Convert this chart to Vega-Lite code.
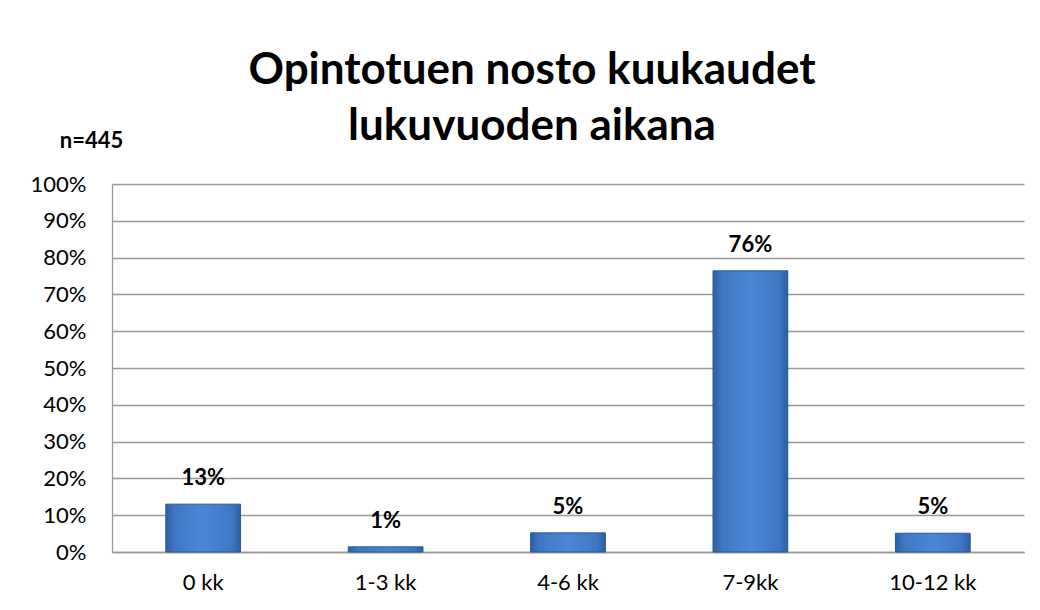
{
  "$schema": "https://vega.github.io/schema/vega-lite/v6.json",
  "width": 912,
  "height": 368,
  "autosize": {"type": "none"},
  "padding": {"left": 112, "top": 184, "right": 16, "bottom": 58},
  "background": "white",
  "title": {
    "text": ["Opintotuen nosto kuukaudet", "lukuvuoden aikana"],
    "font": "Lato",
    "fontSize": 44,
    "fontWeight": "bold",
    "color": "black",
    "lineHeight": 56,
    "anchor": "middle",
    "frame": "group",
    "dx": -36,
    "dy": 64,
    "offset": 44
  },
  "data": {
    "values": [
      {"kk": "0 kk", "osuus": 0.13},
      {"kk": "1-3 kk", "osuus": 0.014},
      {"kk": "4-6 kk", "osuus": 0.052},
      {"kk": "7-9kk", "osuus": 0.764},
      {"kk": "10-12 kk", "osuus": 0.051}
    ]
  },
  "encoding": {
    "x": {
      "field": "kk",
      "type": "nominal",
      "sort": null,
      "scale": {"paddingInner": 0.59, "paddingOuter": 0.295},
      "axis": {
        "title": null,
        "labelAngle": 0,
        "labelFont": "Lato",
        "labelFontSize": 22,
        "labelColor": "black",
        "labelPadding": 20,
        "ticks": false,
        "domainColor": "#999999",
        "domainWidth": 1.3
      }
    },
    "y": {
      "field": "osuus",
      "type": "quantitative",
      "scale": {"domain": [0, 1]},
      "axis": {
        "title": "n=445",
        "titleAngle": 0,
        "titleX": -21,
        "titleY": -44,
        "titleAlign": "center",
        "titleBaseline": "middle",
        "titleFont": "Lato",
        "titleFontSize": 22,
        "titleFontWeight": "bold",
        "titleColor": "black",
        "format": ".0%",
        "values": [0, 0.1, 0.2, 0.3, 0.4, 0.5, 0.6, 0.7, 0.8, 0.9, 1],
        "labelFont": "Lato",
        "labelFontSize": 22,
        "labelColor": "black",
        "labelPadding": 26,
        "ticks": false,
        "domainColor": "#999999",
        "domainWidth": 1.3,
        "grid": true,
        "gridColor": "#999999",
        "gridWidth": 1.3
      }
    }
  },
  "layer": [
    {
      "mark": {
        "type": "bar",
        "stroke": "#2b5a95",
        "strokeWidth": 1,
        "fill": {
          "gradient": "linear",
          "x1": 0, "y1": 0, "x2": 1, "y2": 0,
          "stops": [
            {"offset": 0, "color": "#2d5f9e"},
            {"offset": 0.12, "color": "#3f78c4"},
            {"offset": 0.5, "color": "#4a86d4"},
            {"offset": 0.88, "color": "#3f78c4"},
            {"offset": 1, "color": "#2d5f9e"}
          ]
        }
      }
    },
    {
      "mark": {
        "type": "text",
        "font": "Lato",
        "fontSize": 22,
        "fontWeight": "bold",
        "color": "black",
        "baseline": "middle",
        "dy": -26
      },
      "encoding": {
        "text": {"field": "osuus", "type": "quantitative", "format": ".0%"}
      }
    }
  ],
  "config": {"view": {"stroke": null}}
}
